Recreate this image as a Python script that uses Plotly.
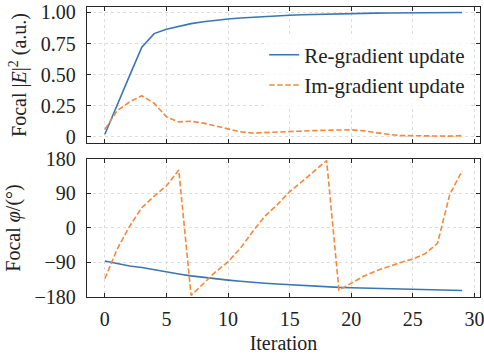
import plotly.graph_objects as go

iterations = list(range(30))

re_intensity = [0.02, 0.26, 0.49, 0.72, 0.83, 0.865, 0.89, 0.91, 0.925, 0.938,
                0.948, 0.956, 0.963, 0.969, 0.974, 0.978, 0.982, 0.985, 0.988, 0.99,
                0.992, 0.994, 0.995, 0.996, 0.997, 0.998, 0.999, 0.999, 1.0, 1.0]
im_intensity = [0.06, 0.21, 0.28, 0.33, 0.27, 0.16, 0.12, 0.125, 0.11, 0.085,
                0.06, 0.04, 0.03, 0.035, 0.04, 0.045, 0.048, 0.05, 0.053, 0.056,
                0.056, 0.048, 0.032, 0.02, 0.01, 0.008, 0.005, 0.003, 0.005, 0.01]

re_phase = [-86, -93, -99, -103, -109, -115, -120, -125, -129, -133,
            -136, -139, -142, -144, -146, -148, -150, -152, -153, -155,
            -156, -157, -158, -159, -160, -161, -161, -162, -162, -163]
im_phase = [-132, -55, 4, 53, 83, 110, 151, -176, -145, -114,
            -88, -53, -9, 31, 61, 95, 121, 149, 176, -162,
            -143, -126, -112, -100, -90, -81, -67, -40, 88, 149]

x_ticks = [0, 5, 10, 15, 20, 25, 30]
top_ticks = [0, 0.25, 0.5, 0.75, 1.0]
top_labels = ["0", "0.25", "0.50", "0.75", "1.00"]
bot_ticks = [-180, -90, 0, 90, 180]
bot_labels = ["\u2212180", "\u221290", "0", "90", "180"]

BLUE = "#3a76b0"
ORANGE = "#f5883a"
FONT = "Liberation Serif"

fig = go.Figure()
fig.add_trace(go.Scatter(x=iterations, y=re_intensity, mode="lines", name="Re-gradient update",
                         line=dict(color=BLUE, width=1.6), xaxis="x", yaxis="y"))
fig.add_trace(go.Scatter(x=iterations, y=im_intensity, mode="lines", name="Im-gradient update",
                         line=dict(color=ORANGE, width=1.6, dash="5.5px,2.5px"), xaxis="x", yaxis="y"))
fig.add_trace(go.Scatter(x=iterations, y=re_phase, mode="lines", showlegend=False,
                         line=dict(color=BLUE, width=1.6), xaxis="x2", yaxis="y2"))
fig.add_trace(go.Scatter(x=iterations, y=im_phase, mode="lines", showlegend=False,
                         line=dict(color=ORANGE, width=1.6, dash="5.5px,2.5px"), xaxis="x2", yaxis="y2"))

common = dict(showline=True, linecolor="#262626", linewidth=1.3, mirror="ticks",
              ticks="inside", ticklen=4, tickwidth=1, tickcolor="#262626",
              showgrid=True, gridcolor="#dcdcdc", griddash="dot", gridwidth=1,
              zeroline=False, automargin=False, ticklabeloverflow="allow",
              tickfont=dict(family=FONT, size=20, color="#222"))

fig.update_layout(
    width=484, height=354,
    margin=dict(l=87, r=4, t=7, b=57),
    paper_bgcolor="white", plot_bgcolor="white",
    font=dict(family=FONT, size=20, color="#222"),
    xaxis=dict(domain=[0, 1], range=[-1.45, 30.45], tickvals=x_ticks, showticklabels=False,
               anchor="y", **common),
    yaxis=dict(domain=[0.531, 1], range=[-0.05, 1.044], tickvals=top_ticks, ticktext=top_labels,
               anchor="x", ticklabelstandoff=6,
               title=dict(text="Focal |<i>E</i>|<sup>2</sup> (a.u.)", standoff=8,
                          font=dict(family=FONT, size=20)), **common),
    xaxis2=dict(domain=[0, 1], range=[-1.45, 30.45], tickvals=x_ticks, anchor="y2",
                ticklabelstandoff=4,
                title=dict(text="Iteration", standoff=6, font=dict(family=FONT, size=20)), **common),
    yaxis2=dict(domain=[0, 0.476], range=[-180, 180], tickvals=bot_ticks, ticktext=bot_labels,
                anchor="x2", ticklabelstandoff=6,
                title=dict(text="Focal <i>\u03c6</i>/(\u00b0)", standoff=8,
                           font=dict(family=FONT, size=20)), **common),
    legend=dict(x=0.975, y=0.905, xanchor="right", yanchor="top", bgcolor="rgba(255,255,255,0.8)",
                font=dict(family=FONT, size=21), tracegroupgap=0, itemwidth=30),
)

fig.write_html("out.html", config={"displayModeBar": False},
               post_script="document.body.style.margin='0px';document.body.style.overflow='hidden';")
